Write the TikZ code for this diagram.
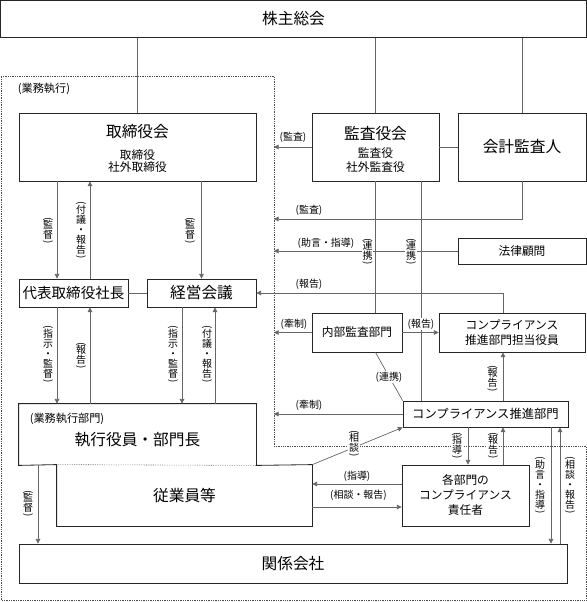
\documentclass[tikz,border=0pt]{standalone}
\usepackage{fontspec}
\setmainfont{Noto Sans CJK JP}
\usetikzlibrary{arrows.meta}

% parentheses for vertical labels
\newcommand{\tateS}{\rotatebox[origin=c]{-90}{(}\\[-3pt]}
\newcommand{\tateE}{\\[-3pt]\rotatebox[origin=c]{-90}{)}}

\begin{document}
\begin{tikzpicture}[x=0.03cm, y=-0.03cm,
  box/.style={draw=black!85, line width=0.7pt, inner sep=0pt, align=center},
  sz/.style 2 args={minimum width=#1*0.03cm, minimum height=#2*0.03cm},
  conn/.style={draw=black!60, line width=0.6pt},
  zone/.style={draw=black!70, line width=0.5pt, densely dotted},
  big/.style={font=\fontsize{13.4}{16}\selectfont},
  mid/.style={font=\fontsize{10}{13.4}\selectfont},
  lab/.style={fill=white, inner sep=0.6pt, font=\fontsize{8.5}{9}\selectfont},
  vlab/.style={fill=white, inner sep=0.4pt, align=center, font=\fontsize{8.5}{8.6}\selectfont},
  >={Triangle[length=4pt,width=4pt]}]

\useasboundingbox (0,0) rectangle (587,602);

%%%%%%%%%%%%%%%%%%%%%%
%%%     Zone        %%%
%%%%%%%%%%%%%%%%%%%%%%

\coordinate (haut) at (1,76);
\coordinate (coin) at (274,76);
\coordinate (coinB) at (274,446);
\coordinate (droite) at (586,446);
\coordinate (basD) at (586,600);
\coordinate (basG) at (1,600);
\draw[zone] (haut) -- (coin) -- (coinB) -- (droite) -- (basD) -- (basG) -- cycle;

%%%%%%%%%%%%%%%%%%%%%%
%%%     Boites      %%%
%%%%%%%%%%%%%%%%%%%%%%

\node[box, sz={586}{37}, big] (kabunushi) at (293.5,19) {株主総会};

\node[box, sz={237}{68}] (torishimari) at (137.5,147) {};
\node[big] (torishimariT) at (137.5,131.7) {取締役会};
\node[mid, align=center, font=\fontsize{10}{10.6}\selectfont] (torishimariS) at (137.5,161.3) {取締役\\社外取締役};

\node[box, sz={127}{68}] (kansayaku) at (375.5,147) {};
\node[big] (kansayakuT) at (375.5,133.3) {監査役会};
\node[mid, align=center, font=\fontsize{10}{12}\selectfont] (kansayakuS) at (375.5,160.3) {監査役\\社外監査役};

\node[box, sz={128}{68}, big] (kaikei) at (522,147) {会計監査人};
\node[box, sz={128}{26}, mid] (houritsu) at (522,251) {法律顧問};

\node[box, sz={109}{28}, font=\fontsize{12.4}{14}\selectfont] (shacho) at (73.5,293) {代表取締役社長};
\node[box, sz={109}{28}, big] (keiei) at (201.5,293) {経営会議};

\node[box, sz={90}{39}, mid] (naibu) at (357,332.5) {内部監査部門};
\node[box, sz={146}{39}, mid] (tanto) at (512,332.5) {コンプライアンス\\推進部門担当役員};
\node[box, sz={165}{26}, font=\fontsize{10.5}{12}\selectfont] (suishin) at (485.5,414) {コンプライアンス推進部門};

\node[box, draw=none, sz={237}{61}] (shikko) at (137.5,434.5) {};
\node[font=\fontsize{9.5}{11}\selectfont] (shikkoL) at (67,419) {(業務執行部門)};
\node[big] (shikkoT) at (137.5,440) {執行役員・部門長};
\node[box, draw=none, sz={255}{61}, big] (jugyoin) at (184.5,495.5) {従業員等};
\draw[box] (jugyoin.north west) -- (shikko.south west) -- (shikko.north west) -- (shikko.north east)
  -- (shikko.south east) -- (jugyoin.north east) -- (jugyoin.south east) -- (jugyoin.south west) -- cycle;
\draw[zone] (jugyoin.north west) -- (shikko.south east);

\node[box, sz={127}{61}, mid, font=\fontsize{10}{12.8}\selectfont] (kakubu) at (465.5,495.5) {各部門の\\コンプライアンス\\責任者};
\node[box, sz={548}{39}, big] (kankei) at (293,563.5) {関係会社};

\node[font=\fontsize{9.5}{11}\selectfont] (gyomu) at (44,89) {(業務執行)};

%%%%%%%%%%%%%%%%%%%%%%
%%%     Liaisons    %%%
%%%%%%%%%%%%%%%%%%%%%%

\coordinate (kansaB) at (274,219);
\coordinate (renkei) at (421,181);
\coordinate (houkoku) at (503,0);
\coordinate (xa) at (57,0);
\coordinate (xb) at (90,0);
\coordinate (xc) at (182,0);
\coordinate (xd) at (215,0);
\coordinate (xe) at (38,0);
\coordinate (xf) at (468,0);
\coordinate (xg) at (551,0);
\coordinate (xh) at (560,0);
\coordinate (ya) at (0,484);
\coordinate (yb) at (0,507);

% partie haute
\draw[conn] (kabunushi.south -| torishimari.north) -- (torishimari.north);
\draw[conn] (kabunushi.south -| kansayaku.north) -- (kansayaku.north);
\draw[conn] (kabunushi.south -| kaikei.north) -- (kaikei.north);
\draw[conn] (kansayaku.east) -- (kaikei.west);
\draw[conn,->] (kansayaku.west) -- (kansayaku.west -| coin);
\draw[conn,->] (kaikei.south) |- (kansaB);
\draw[conn,->] (houritsu.west) -- (houritsu.west -| coin);
\draw[conn] (kansayaku.south) -- (kansayaku.south |- naibu.north);
\draw[conn] (renkei) -- (renkei |- suishin.north);

% partie droite
\draw[conn,->] (tanto.north -| houkoku) |- (keiei.east);
\draw[conn,->] (naibu.west) -- (naibu.west -| coin);
\draw[conn,->] (naibu.east) -- (tanto.west);
\draw[conn] (naibu.south -| kansayaku.south) -- (suishin.north west);
\draw[conn,->] (suishin.north -| houkoku) -- (tanto.south -| houkoku);
\draw[conn,->] (suishin.west) -- (suishin.west -| coin);

% partie gauche
\draw[conn,->] (torishimari.south -| xa) -- (shacho.north -| xa);
\draw[conn,->] (shacho.north -| xb) -- (torishimari.south -| xb);
\draw[conn,->] (torishimari.south -| keiei.north) -- (keiei.north);
\draw[conn] (shacho.east) -- (keiei.west);
\draw[conn,->] (shacho.south -| xa) -- (shikko.north -| xa);
\draw[conn,->] (shikko.north -| xb) -- (shacho.south -| xb);
\draw[conn,->] (keiei.south -| xc) -- (shikko.north -| xc);
\draw[conn,->] (shikko.north -| xd) -- (keiei.south -| xd);
\draw[conn,->] (shikko.south -| xe) -- (kankei.north -| xe);

% partie basse
\draw[conn,->] (jugyoin.north east) -- (suishin.south west);
\draw[conn,->] (kakubu.west |- ya) -- (jugyoin.east |- ya);
\draw[conn,->] (jugyoin.east |- yb) -- (kakubu.west |- yb);
\draw[conn,->] (suishin.south -| xf) -- (kakubu.north -| xf);
\draw[conn,->] (kakubu.north -| houkoku) -- (suishin.south -| houkoku);
\draw[conn,->] (suishin.south -| xg) -- (kankei.north -| xg);
\draw[conn,->] (kankei.north -| xh) -- (suishin.south -| xh);

%%%%%%%%%%%%%%%%%%%%%%
%%%   Etiquettes    %%%
%%%%%%%%%%%%%%%%%%%%%%

\node[lab] (lKansaA) at (293,137) {(監査)};
\node[lab] (lKansaB) at (309,210.7) {(監査)};
\node[lab] (lJogen) at (326,243.3) {(助言・指導)};
\node[lab] (lHoukokuA) at (309,284) {(報告)};
\node[lab] (lKenseiA) at (294,324) {(牽制)};
\node[lab] (lHoukokuB) at (421,324) {(報告)};
\node[lab] (lRenkei) at (389,377.3) {(連携)};
\node[lab] (lKenseiB) at (309,405.7) {(牽制)};
\node[lab] (lShidou) at (357,476) {(指導)};
\node[lab] (lSoudan) at (358.5,495.7) {(相談・報告)};

\node[vlab] (vKantokuA) at (48,231) {\tateS 監\\督\tateE};
\node[vlab] (vFugiA) at (81,231) {\tateS 付\\議\\・\\報\\告\tateE};
\node[vlab] (vKantokuB) at (190,231) {\tateS 監\\督\tateE};
\node[vlab] (vShijiA) at (48,355) {\tateS 指\\示\\・\\監\\督\tateE};
\node[vlab] (vHoukokuA) at (81,356) {\tateS 報\\告\tateE};
\node[vlab] (vShijiB) at (173,355) {\tateS 指\\示\\・\\監\\督\tateE};
\node[vlab] (vFugiB) at (207,355) {\tateS 付\\議\\・\\報\\告\tateE};
\node[vlab] (vRenkeiA) at (367.5,252) {\tateS 連\\携\tateE};
\node[vlab] (vRenkeiB) at (411,252) {\tateS 連\\携\tateE};
\node[vlab] (vHoukokuB) at (492.5,379) {\tateS 報\\告\tateE};
\node[vlab] (vSoudan) at (354,444) {\tateS 相\\談\tateE};
\node[vlab] (vShidou) at (457,446) {\tateS 指\\導\tateE};
\node[vlab] (vHoukokuC) at (493,446) {\tateS 報\\告\tateE};
\node[vlab] (vJogen) at (540,486) {\tateS 助\\言\\・\\指\\導\tateE};
\node[vlab] (vSoudanB) at (570,486) {\tateS 相\\談\\・\\報\\告\tateE};
\node[vlab] (vKantokuC) at (28,504) {\tateS 監\\督\tateE};

%%%%%%%%%%%%%%%%%%%%%%%%%%%%%%%%%%%%%%%%%

\end{tikzpicture}
\end{document}
